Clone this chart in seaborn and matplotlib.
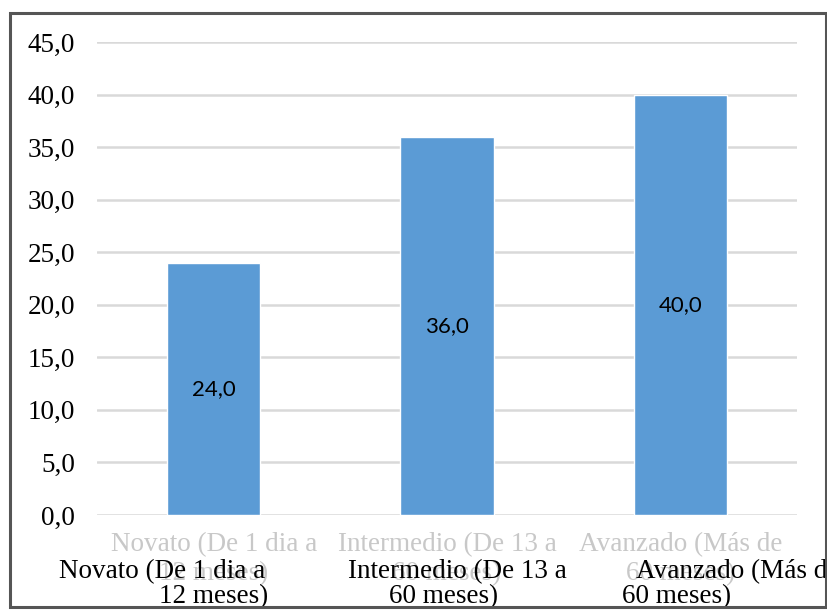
import matplotlib
matplotlib.use("Agg")
import matplotlib.pyplot as plt
from matplotlib.patches import Rectangle
import seaborn as sns

# data
categorias = ["Novato (De 1 dia a\n12 meses)",
              "Intermedio (De 13 a\n60 meses)",
              "Avanzado (Más de\n60 meses)"]
valores = [24.0, 36.0, 40.0]
yticks = [0, 5, 10, 15, 20, 25, 30, 35, 40, 45]

sns.set_theme(style="white")
plt.rcParams['font.family'] = ['Liberation Serif', 'DejaVu Serif']

fig = plt.figure(figsize=(8.28, 6.12), dpi=100)
fig.patch.set_facecolor("white")
ax = fig.add_axes([97/828, 97/612, 700/828, 473/612])

sns.barplot(x=categorias, y=valores, color="#5b9bd5", width=0.4,
            saturation=1, ax=ax, zorder=3)

ax.set_ylim(0, 45)
ax.set_yticks(yticks)
ax.set_yticklabels([f"{v:.1f}".replace(".", ",") for v in yticks],
                   fontsize=19.5, color="black")
ax.yaxis.grid(True, color="#d9d9d9", linewidth=1.8, zorder=0)
ax.xaxis.grid(False)
ax.tick_params(axis="y", length=0, pad=16)
ax.tick_params(axis="x", length=0, pad=12)
for s in ax.spines.values():
    s.set_visible(False)

# faint original category labels
ax.set_xticks(range(len(categorias)))
ax.set_xticklabels(categorias, fontsize=19.5, color="#c8c8c8", linespacing=1.25)
ax.set_xlabel("")
ax.set_ylabel("")

# value labels in the middle of each bar
for i, v in enumerate(valores):
    ax.text(i, v / 2, f"{v:.1f}".replace(".", ","), ha="center", va="center",
            fontsize=16, family=["Lato", "DejaVu Sans"], color="black", zorder=5)

# darker overlaid category text (two lines each)
trans = ax.get_xaxis_transform()
linea1 = [l.split("\n")[0] for l in categorias]
linea2 = [l.split("\n")[1] for l in categorias]
dx1 = [-52, 10, -44]
ha1 = ["center", "center", "left"]
dx2 = [0, -3, -4]
for i in range(len(categorias)):
    ax.annotate(linea1[i], xy=(i, 0), xycoords=trans, xytext=(dx1[i], -57),
                textcoords="offset pixels", ha=ha1[i], va="center",
                fontsize=19.5, color="black", annotation_clip=False)
    ax.annotate(linea2[i], xy=(i, 0), xycoords=trans, xytext=(dx2[i], -82),
                textcoords="offset pixels", ha="center", va="center",
                fontsize=19.5, color="black", annotation_clip=False)

# frame around the chart
fig.patches.append(Rectangle((10/828, 5/612), 816/828, 594/612,
                             transform=fig.transFigure, fill=False,
                             edgecolor="#555555", linewidth=2.2, zorder=10))

fig.savefig("out.png", dpi=100, facecolor="white")
